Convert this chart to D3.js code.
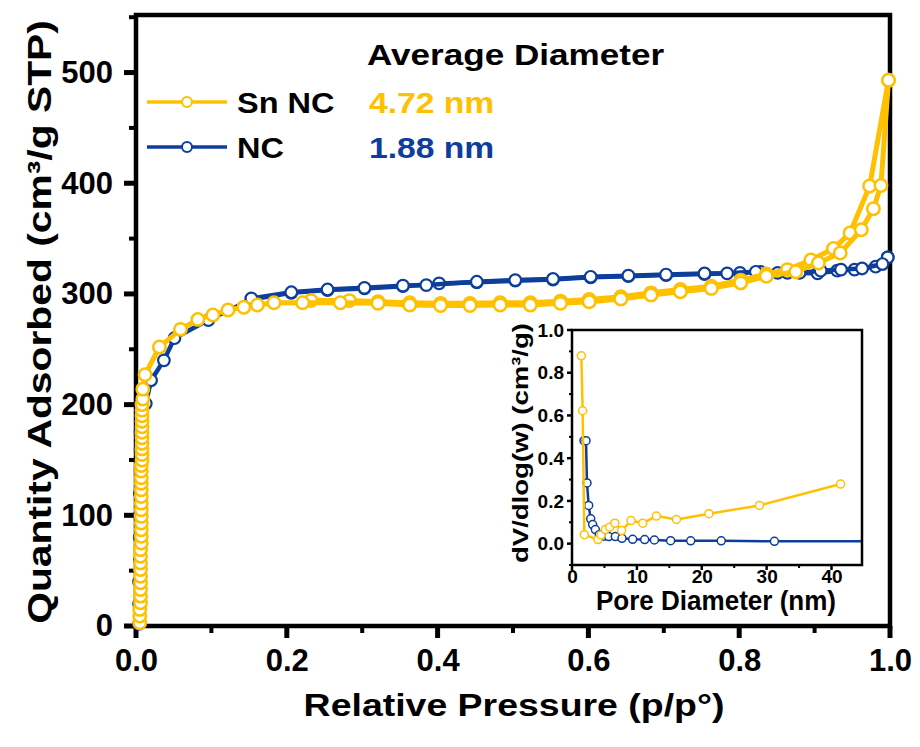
<!DOCTYPE html>
<html>
<head>
<meta charset="utf-8">
<script src="https://cdn.jsdelivr.net/npm/d3@7"></script>
<style>
  body { margin: 0; background: #fff; }
  text { font-family: "Liberation Sans", Arial, sans-serif; font-weight: bold; }
</style>
</head>
<body>
<svg id="chart" width="920" height="747"></svg>
<script>
// isotherm data [p/p0, quantity]
const snAds = [[0.005,3],[0.005,9],[0.005,15],[0.006,21],[0.006,27],[0.006,33],[0.006,39],[0.006,45],[0.006,51],[0.006,57],[0.006,63],[0.006,69],[0.007,75],[0.007,81],[0.007,87],[0.007,93],[0.007,99],[0.007,105],[0.007,111],[0.007,117],[0.007,123],[0.007,129],[0.007,134],[0.007,140],[0.007,145],[0.008,150],[0.008,155],[0.008,160],[0.008,165],[0.008,170],[0.008,175],[0.008,180],[0.008,185],[0.008,190],[0.008,195],[0.008,200],[0.009,205],[0.009,214],[0.012,227],[0.031,252],[0.059,268],[0.082,277],[0.102,281],[0.122,285.5],[0.143,288],[0.161,290],[0.183,292],[0.221,292],[0.271,292],[0.321,291.5],[0.363,290],[0.404,289.5],[0.443,289.5],[0.483,290],[0.523,290],[0.563,291.5],[0.601,293],[0.643,295.5],[0.683,299],[0.722,302],[0.763,305],[0.802,310],[0.836,316],[0.875,320],[0.905,328],[0.934,337],[0.962,358],[0.978,377],[0.988,398],[0.998,493]];
const snDes = [[0.998,493],[0.973,397.5],[0.947,355],[0.925,341],[0.895,330.6],[0.864,322],[0.836,318],[0.802,312.5],[0.763,307],[0.722,304],[0.683,301],[0.643,297.5],[0.601,295],[0.563,293.5],[0.523,292],[0.483,292],[0.443,291.5],[0.404,291.5],[0.363,292],[0.321,293],[0.283,294],[0.232,294]];
const ncAds = [[0.004,2],[0.004,20],[0.004,40],[0.005,60],[0.005,80],[0.005,100],[0.005,120],[0.006,140],[0.006,160],[0.006,175],[0.007,190],[0.013,201],[0.02,222],[0.037,240],[0.051,260],[0.096,276.4],[0.153,295],[0.206,301],[0.254,303.5],[0.303,305],[0.354,307],[0.402,309.5],[0.452,310.5],[0.503,312],[0.553,313],[0.603,315],[0.653,316],[0.703,317],[0.754,318],[0.801,319],[0.828,320],[0.864,319],[0.904,318.6],[0.930,321],[0.953,322],[0.981,324.6],[0.997,333]];
const ncDes = [[0.997,333],[0.990,327],[0.963,323],[0.935,322],[0.908,321],[0.880,319],[0.851,319],[0.822,320],[0.784,318.6],[0.754,318.5],[0.703,317.5],[0.653,316.5],[0.603,315.5],[0.553,313.5],[0.503,312.5],[0.452,311],[0.385,308],[0.354,307.5],[0.303,305.5],[0.254,304],[0.206,301.5],[0.153,296]];

// pore size distribution [nm, dV/dlog(w)]
const snPore = [[1.44,0.879],[1.64,0.622],[1.9,0.042],[4.0,0.019],[4.47,0.041],[5.14,0.066],[5.8,0.077],[6.6,0.096],[7.65,0.061],[9.1,0.108],[10.9,0.096],[13.0,0.129],[16.1,0.113],[21.1,0.140],[28.9,0.179],[41.4,0.279]];
const ncPore = [[1.85,0.482],[2.16,0.482],[2.31,0.284],[2.57,0.179],[2.88,0.116],[3.18,0.089],[3.6,0.066],[4.2,0.042],[4.9,0.035],[5.65,0.033],[6.68,0.033],[7.7,0.025],[9.35,0.020],[11.2,0.019],[12.7,0.017],[15.2,0.014],[18.3,0.013],[23.0,0.013],[31.2,0.011],[48,0.011]];

const seriesNames = ['Sn NC', 'NC'];
const diameters = ['4.72 nm', '1.88 nm'];
const xTicks = [0, 0.2, 0.4, 0.6, 0.8, 1.0];
const xMinor = [0.1, 0.3, 0.5, 0.7, 0.9];
const yTicks = [0, 100, 200, 300, 400, 500];
const yMinor = [50, 150, 250, 350, 450, 550];
const insetXTicks = [0, 10, 20, 30, 40];
const insetXMinor = [5, 15, 25, 35];
const insetYTicks = [0, 0.2, 0.4, 0.6, 0.8, 1.0];
const insetYMinor = [-0.1, 0.1, 0.3, 0.5, 0.7, 0.9];

const YEL = '#FFC000', BLUE = '#0D3E9C';

var svg = d3.select('#chart');

//stretch glyphs sideways to a given length
function fitTo(sel, len) {
  sel.attr('textLength', len).attr('lengthAdjust', 'spacingAndGlyphs');
}
function stretch(sel, f) {
  sel.each(function() {
    this.setAttribute('textLength', this.getComputedTextLength() * f);
    this.setAttribute('lengthAdjust', 'spacingAndGlyphs');
  });
}

//draw tick marks + labels for one axis
function axis(g, orient, scale, major, minor, len, minLen, pad, fsize, fmt, sw, msw) {
  var ax = (orient === 'bottom' ? d3.axisBottom(scale) : d3.axisLeft(scale))
    .tickValues(major).tickSize(0).tickPadding(len + pad).tickFormat(fmt);
  g.call(ax);
  g.select('.domain').remove();
  g.selectAll('.tick text').attr('fill', '#000').style('font-size', fsize + 'px');
  var all = major.map(v => [v, len, sw]).concat(minor.map(v => [v, minLen, msw]));
  g.selectAll('line.tk').data(all).enter().append('line')
    .attr('class', 'tk')
    .attr('x1', d => orient === 'bottom' ? scale(d[0]) : 0)
    .attr('x2', d => orient === 'bottom' ? scale(d[0]) : -d[1])
    .attr('y1', d => orient === 'bottom' ? 0 : scale(d[0]))
    .attr('y2', d => orient === 'bottom' ? d[1] : scale(d[0]))
    .attr('stroke', '#000').attr('stroke-width', d => d[2]);
}

//main scales
var x = d3.scaleLinear().domain([0, 1]).range([136, 890]);
var y = d3.scaleLinear().domain([0, 552]).range([626, 15]);

axis(svg.append('g').attr('transform', 'translate(0,' + y(0) + ')'),
  'bottom', x, xTicks, xMinor, 12, 7, 11, 31, d3.format('.1f'), 5, 4);
axis(svg.append('g').attr('transform', 'translate(' + x(0) + ',0)'),
  'left', y, yTicks, yMinor.filter(v => v < 552), 12, 7, 11, 31, d3.format('d'), 5, 4);

//frame
svg.append('rect')
  .attr('x', x(0)).attr('y', y(552))
  .attr('width', x(1) - x(0)).attr('height', y(0) - y(552))
  .attr('fill', 'none').attr('stroke', '#000').attr('stroke-width', 4.5);

//axis titles
svg.append('text')
  .attr('x', (x(0) + x(1)) / 2 + 1).attr('y', 716)
  .attr('text-anchor', 'middle').style('font-size', '32px')
  .text('Relative Pressure (p/p°)').call(stretch, 1.17);
svg.append('text')
  .attr('transform', 'translate(51,' + 322 + ') rotate(-90)')
  .attr('text-anchor', 'middle').style('font-size', '34px')
  .text('Quantity Adsorbed (cm³/g STP)').call(stretch, 1.2);

function drawSeries(g, data, sx, sy, color, lw, r, mw) {
  var line = d3.line().x(d => sx(d[0])).y(d => sy(d[1]));
  g.append('path').datum(data)
    .attr('d', line).attr('fill', 'none')
    .attr('stroke', color).attr('stroke-width', lw)
    .attr('stroke-linejoin', 'round');
  g.selectAll(null).data(data).enter().append('circle')
    .attr('cx', d => sx(d[0])).attr('cy', d => sy(d[1]))
    .attr('r', r).attr('fill', '#fff')
    .attr('stroke', color).attr('stroke-width', mw);
}

var plot = svg.append('g');
drawSeries(plot, ncAds, x, y, BLUE, 4.5, 5.8, 2.2);
drawSeries(plot, ncDes, x, y, BLUE, 4.5, 5.8, 2.2);
drawSeries(plot, snDes, x, y, YEL, 5, 6.2, 2.5);
drawSeries(plot, snAds, x, y, YEL, 5, 6.2, 2.5);

//legend
var leg = svg.append('g');
[YEL, BLUE].forEach(function(c, i) {
  var ly = i ? 147 : 102;
  leg.append('line').attr('x1', 147).attr('x2', 227).attr('y1', ly).attr('y2', ly)
    .attr('stroke', c).attr('stroke-width', 3.5);
  leg.append('circle').attr('cx', 187).attr('cy', ly).attr('r', 5)
    .attr('fill', '#fff').attr('stroke', c).attr('stroke-width', 2);
  leg.append('text').attr('x', 237).attr('y', ly + 11).style('font-size', '29px')
    .text(seriesNames[i]).call(stretch, 1.12);
  leg.append('text').attr('x', 369).attr('y', ly + 11).style('font-size', '29px')
    .attr('fill', c).text(diameters[i]).call(stretch, 1.16);
});
leg.append('text').attr('x', 367).attr('y', 65).style('font-size', '29px')
  .text('Average Diameter').call(stretch, 1.21);

//inset
var ix = d3.scaleLinear().domain([0, 44.7]).range([572, 862]);
var iy = d3.scaleLinear().domain([-0.1, 1.0]).range([565, 330]);
var inset = svg.append('g');
inset.append('rect').attr('x', 572).attr('y', 330).attr('width', 290).attr('height', 235).attr('fill', '#fff');

axis(inset.append('g').attr('transform', 'translate(0,' + iy(-0.1) + ')'),
  'bottom', ix, insetXTicks, insetXMinor, 5, 3, 0, 19, d3.format('d'), 2.5, 2);
axis(inset.append('g').attr('transform', 'translate(' + ix(0) + ',0)'),
  'left', iy, insetYTicks, insetYMinor, 5, 3, 3, 19, d3.format('.1f'), 2.5, 2);

svg.append('clipPath').attr('id', 'iclip').append('rect')
  .attr('x', 572).attr('y', 330).attr('width', 290).attr('height', 235);
var iplot = inset.append('g').attr('clip-path', 'url(#iclip)');
drawSeries(iplot, ncPore, ix, iy, BLUE, 2.5, 4, 1.5);
drawSeries(iplot, snPore, ix, iy, YEL, 2.5, 4, 1.5);

inset.append('rect').attr('x', 572).attr('y', 330).attr('width', 290).attr('height', 235)
  .attr('fill', 'none').attr('stroke', '#000').attr('stroke-width', 2.5);

inset.append('text').attr('x', 716).attr('y', 610).attr('text-anchor', 'middle')
  .style('font-size', '27px').text('Pore Diameter (nm)').call(fitTo, 240);
inset.append('text').attr('transform', 'translate(528,443) rotate(-90)')
  .attr('text-anchor', 'middle').style('font-size', '22px')
  .text('dV/dlog(w)  (cm³/g)').call(fitTo, 240);
</script>
</body>
</html>
